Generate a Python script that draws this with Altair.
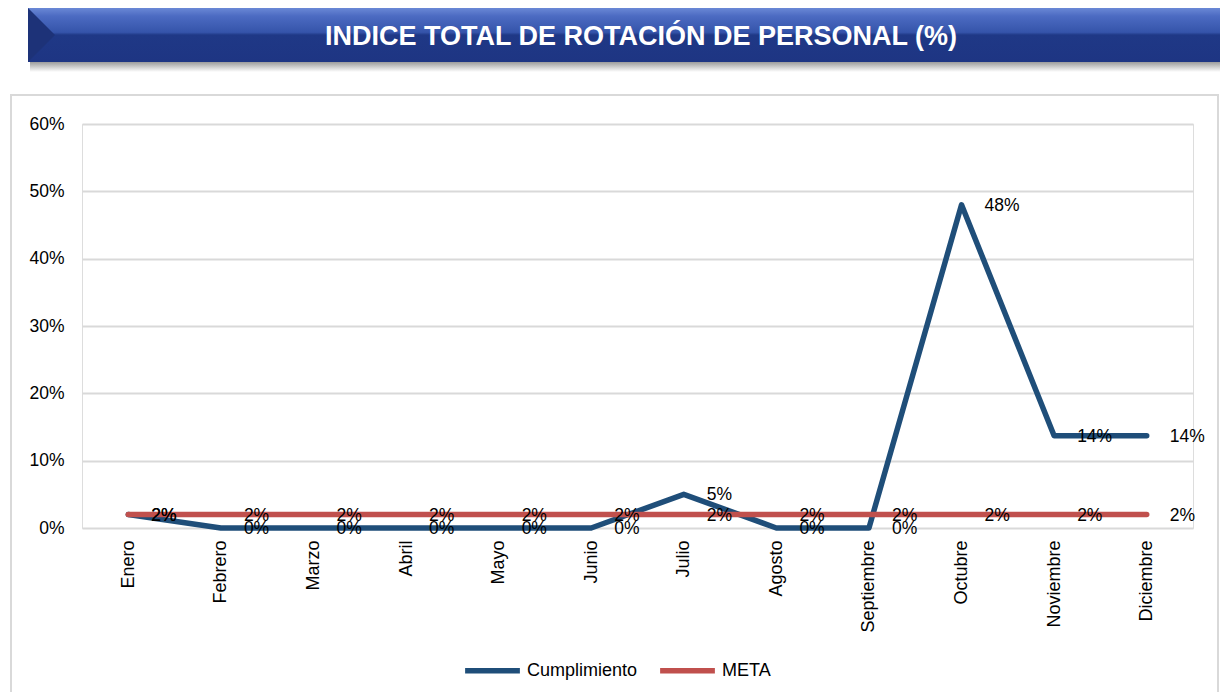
import altair as alt
import pandas as pd

meses = ["Enero", "Febrero", "Marzo", "Abril", "Mayo", "Junio", "Julio",
         "Agosto", "Septiembre", "Octubre", "Noviembre", "Diciembre"]
cumplimiento = [0.02, 0.0, 0.0, 0.0, 0.0, 0.0, 0.05, 0.0, 0.0, 0.48, 0.137, 0.137]
meta = [0.02, 0.02, 0.02, 0.02, 0.02, 0.02, 0.02, 0.02, 0.02, 0.02, 0.02, 0.02]
series = ["Cumplimiento", "META"]
colores = ["#1F4E79", "#C0504D"]
y_ticks = [0.0, 0.1, 0.2, 0.3, 0.4, 0.5, 0.6]
titulo = "INDICE TOTAL DE ROTACIÓN DE PERSONAL (%)"

FONT = "Liberation Sans"

rows = []
for m, v in zip(meses, cumplimiento):
    rows.append({"mes": m, "serie": "Cumplimiento", "valor": v})
for m, v in zip(meses, meta):
    rows.append({"mes": m, "serie": "META", "valor": v})
df = pd.DataFrame(rows)

W, H = 1111, 404

x_enc = alt.X("mes:N", sort=meses, scale=alt.Scale(type="point", padding=0.5),
              axis=alt.Axis(title=None, labelAngle=-90, labelFontSize=18, labelFont=FONT,
                            labelColor="#000000", domain=False, ticks=False,
                            labelPadding=12, grid=False))
y_enc = alt.Y("valor:Q", scale=alt.Scale(domain=[0, 0.6], nice=False),
              axis=alt.Axis(title=None, format=".0%", values=y_ticks, labelFontSize=17.5,
                            labelFont=FONT, labelColor="#000000", domain=False, ticks=False,
                            labelPadding=18, grid=True, gridColor="#D9D9D9", gridWidth=2))

one = alt.Data(values=[{}])

# decorations
border = alt.Chart(one).mark_rect(filled=False, stroke="#D9D9D9", strokeWidth=2).encode(
    x=alt.value(-71), x2=alt.value(1136), y=alt.value(-29), y2=alt.value(640))

shadow = alt.Chart(one).mark_rect(
    fill=alt.Gradient(gradient="linear",
                      stops=[alt.GradientStop(color="#9C9C9C", offset=0),
                             alt.GradientStop(color="#FFFFFF", offset=1)],
                      x1=0, x2=0, y1=0, y2=1)
).encode(x=alt.value(-52), x2=alt.value(1146), y=alt.value(-62), y2=alt.value(-52))

banner = alt.Chart(one).mark_rect(
    fill=alt.Gradient(gradient="linear",
                      stops=[alt.GradientStop(color="#6A88D6", offset=0),
                             alt.GradientStop(color="#4C6BC2", offset=0.15),
                             alt.GradientStop(color="#3554AA", offset=0.45),
                             alt.GradientStop(color="#1F3886", offset=0.5),
                             alt.GradientStop(color="#1E3583", offset=1)],
                      x1=0, x2=0, y1=0, y2=1)
).encode(x=alt.value(-54), x2=alt.value(1146), y=alt.value(-116), y2=alt.value(-62))

bevel = alt.Chart(one).mark_point(
    shape="M0,-1 L1,0 L0,1 Z", filled=True, fill="#1D3278", opacity=1
).encode(x=alt.value(-54), y=alt.value(-89), size=alt.value(2916))

title_txt = alt.Chart(one).mark_text(
    align="center", baseline="middle", font=FONT, fontSize=27, fontWeight="bold", color="#FFFFFF"
).encode(x=alt.value(559), y=alt.value(-87), text=alt.value(titulo))

# data
lines = alt.Chart(df).mark_line(strokeWidth=5.5, strokeCap="round", strokeJoin="round").encode(
    x=x_enc, y=y_enc,
    color=alt.Color("serie:N", scale=alt.Scale(domain=series, range=colores),
                    legend=alt.Legend(title=None, orient="none", legendX=380, legendY=516,
                                      direction="horizontal", symbolType="stroke",
                                      symbolSize=3000, symbolStrokeWidth=5.5,
                                      labelFontSize=18, labelFont=FONT, labelColor="#000000",
                                      labelOffset=4, columnPadding=11)),
    order=alt.Order("serie:N")
)

labels = alt.Chart(df).mark_text(
    align="left", baseline="middle", dx=23, dy=1, font=FONT, fontSize=17.5, color="#000000"
).encode(x=x_enc, y=y_enc, text=alt.Text("valor:Q", format=".0%"), detail="serie:N")

chart = alt.layer(border, shadow, banner, bevel, title_txt, lines, labels).properties(
    width=W, height=H,
    autosize=alt.AutoSizeParams(type="none"),
    padding={"left": 74, "top": 116, "right": 27, "bottom": 164},
).configure_view(stroke=None).configure(background="#FFFFFF")

chart.save("out.html", embed_options={"renderer": "svg", "actions": False})
